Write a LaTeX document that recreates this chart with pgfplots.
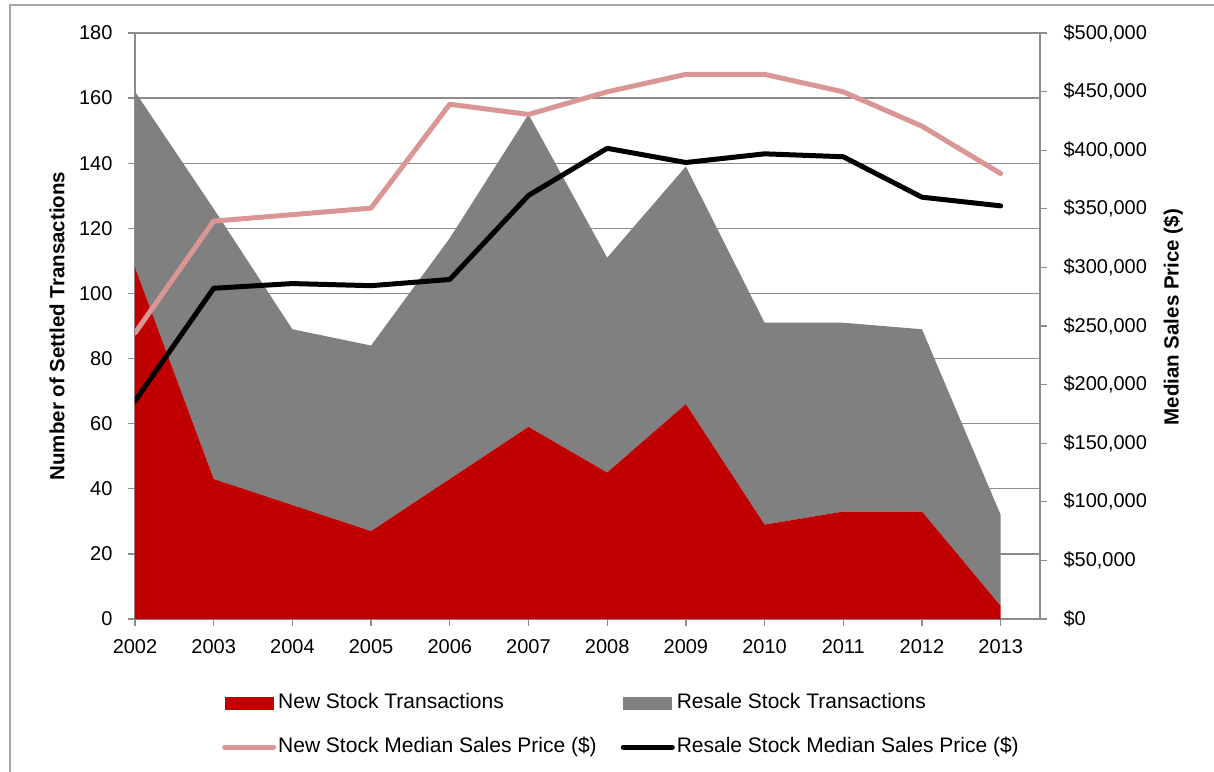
\documentclass[border=0pt]{standalone}
\usepackage{pgfplots}
\pgfplotsset{compat=1.18}
\usepackage{pgfplotstable}
\usepackage{fontspec}
\setmainfont{Liberation Sans}
\definecolor{newred}{HTML}{C00000}
\definecolor{resgray}{HTML}{808080}
\definecolor{pinkline}{HTML}{D99694}
\definecolor{gridgray}{HTML}{8C8C8C}
\definecolor{bordergray}{HTML}{A6A6A6}

\pgfplotstableread{
year new resale newprice resaleprice
2002 108 54 244000 186000
2003 43 83 339500 282200
2004 35 54 345000 286200
2005 27 57 350600 284400
2006 43 74 439200 289700
2007 59 96 430500 361400
2008 45 66 449800 401600
2009 66 73 464700 389500
2010 29 62 464700 396900
2011 33 58 449800 394400
2012 33 56 420500 359900
2013 4 28 380100 352500
}\datatable

\begin{document}
\begin{tikzpicture}
\useasboundingbox (-135pt,-152pt) rectangle (1079pt,619pt);
\draw[bordergray, line width=1.5pt] (-125pt,-170pt) -- (-125pt,614pt) -- (1100pt,614pt);
\begin{axis}[
  at={(0pt,0pt)}, anchor=south west,
  scale only axis, width=905pt, height=586pt,
  xmin=2002, xmax=2013.5, ymin=0, ymax=180,
  xtick={2002,2003,...,2013}, ytick={0,20,...,180},
  axis x line*=bottom, axis y line*=left,
  axis line style={gridgray, line width=1.3pt},
  tick style={gridgray, line width=1.3pt},
  tick align=outside, major tick length=7pt,
  ymajorgrids, grid style={gridgray, line width=1.3pt},
  /pgf/number format/assume math mode=true,
  /pgf/number format/1000 sep={},
  ticklabel style={font=\fontsize{20}{24}\selectfont},
  yticklabel style={xshift=-12pt},
  xticklabel style={yshift=-10pt},
  stack plots=y,
  ylabel={Number of Settled Transactions},
  ylabel style={at={(axis description cs:-0.0862,0.5)}, anchor=center, font=\bfseries\fontsize{20.5}{24}\selectfont},
  legend columns=2,
  legend cell align=left,
  legend style={at={(axis description cs:0.0961,-0.1220)}, anchor=north west, draw=none, fill=none,
    inner sep=0pt, row sep=19pt,
    nodes={inner sep=2pt, text height=16pt, text depth=5pt, font=\fontsize{21}{25}\selectfont},
    /tikz/every even column/.append style={column sep=22pt}},
]
\addplot[fill=newred, draw=none,
  legend image code/.code={\fill[newred] (0pt,-6.5pt) rectangle (49pt,6.5pt);}]
  table[x=year, y=new] {\datatable} \closedcycle;
\addlegendentry{New Stock Transactions}
\addplot[fill=resgray, draw=none,
  legend image code/.code={\fill[resgray] (0pt,-6.5pt) rectangle (49pt,6.5pt);}]
  table[x=year, y=resale] {\datatable} \closedcycle;
\addlegendentry{Resale Stock Transactions}
\addlegendimage{legend image code/.code={\draw[pinkline, line width=5pt, line cap=round] (0pt,0pt) -- (49pt,0pt);}}
\addlegendentry{New Stock Median Sales Price (\$)}
\addlegendimage{legend image code/.code={\draw[black, line width=5pt, line cap=round] (0pt,0pt) -- (49pt,0pt);}}
\addlegendentry{Resale Stock Median Sales Price (\$)}
\end{axis}
\begin{axis}[
  at={(0pt,0pt)}, anchor=south west,
  scale only axis, width=905pt, height=586pt,
  xmin=2002, xmax=2013.5, ymin=0, ymax=500000,
  axis x line=none, axis y line*=right,
  axis line style={gridgray, line width=1.3pt},
  tick style={gridgray, line width=1.3pt},
  tick align=outside, major tick length=7pt,
  scaled y ticks=false,
  ytick={0,50000,...,500000},
  yticklabels={\$0,{\$50,000},{\$100,000},{\$150,000},{\$200,000},{\$250,000},{\$300,000},{\$350,000},{\$400,000},{\$450,000},{\$500,000}},
  ticklabel style={font=\fontsize{20}{24}\selectfont},
  yticklabel style={xshift=13pt},
  ylabel={Median Sales Price (\$)},
  ylabel style={at={(axis description cs:1.147,0.515)}, anchor=center, font=\bfseries\fontsize{20.5}{24}\selectfont},
]
\addplot[pinkline, line width=5pt, line join=round, line cap=round] table[x=year, y=newprice] {\datatable};
\addplot[black, line width=5pt, line join=round, line cap=round] table[x=year, y=resaleprice] {\datatable};
\end{axis}
\end{tikzpicture}
\end{document}
